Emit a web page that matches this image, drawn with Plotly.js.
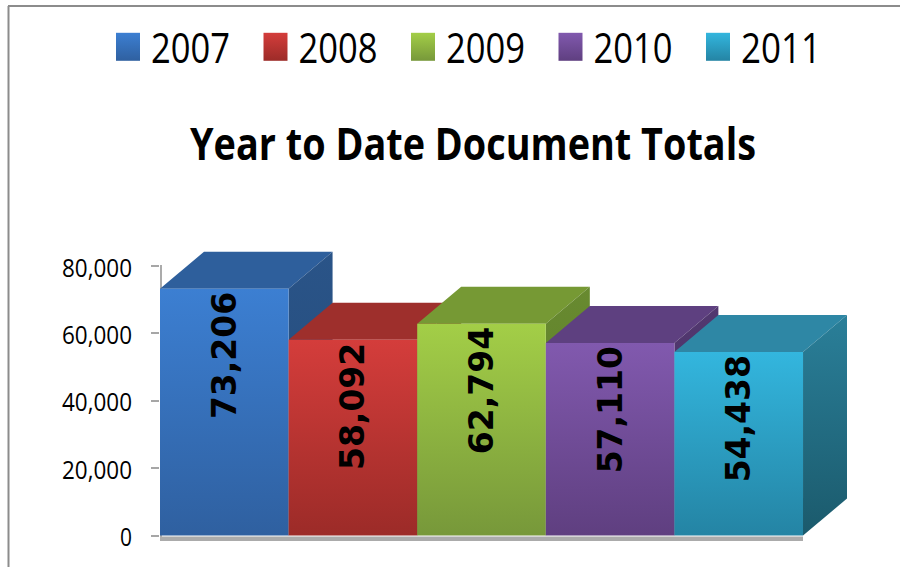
<!DOCTYPE html>
<html><head><meta charset="utf-8">
<script src="https://cdn.plot.ly/plotly-3.0.1.min.js"></script>
<style>html,body{margin:0;padding:0;background:#fff}#c{width:900px;height:567px}</style>
</head><body><div id="c"></div>
<script>
const years = ["2007","2008","2009","2010","2011"];
const totals = [73206,58092,62794,57110,54438];
const labels = ["73,206","58,092","62,794","57,110","54,438"];
const frontTop = ["#3c7fd2","#d43d3b","#a3ce47","#8159ae","#33b6de"];
const frontBottom = ["#2f60a0","#9c2b28","#77983a","#5f3f80","#2484a4"];
const topColors = ["#2e5f9c","#9e2f2c","#769934","#5e4080","#2e87a5"];
const sideColors = ["#2a5488","#8a2826","#688a30","#523870","#2a7f99"];
const sideBottom = ["#234a78","#7a2220","#5a7a28","#452f60","#1b5a6c"];
const depthX = 0.342, depthY = 10975, yMin = -2800, yMax = 84700;

const FONT = '"Open Sans",sans-serif';
const traces = [];
totals.forEach((v,i)=>{
  const l=i-0.5, r=i+0.5;
  traces.push({type:'scatter',mode:'lines',x:[l,r,r+depthX,l+depthX,l],y:[v,v,v+depthY,v+depthY,v],
    fill:'toself',fillcolor:topColors[i],line:{width:0,color:topColors[i]},showlegend:false,hoverinfo:'skip'});
  traces.push({type:'scatter',mode:'lines',x:[r,r+depthX,r+depthX,r,r],y:[v,v+depthY,depthY,0,v],
    fill:'toself',fillcolor:sideColors[i],
    fillgradient:{type:'vertical',colorscale:[[0,sideBottom[i]],[1,sideColors[i]]]},
    line:{width:0,color:sideColors[i]},showlegend:false,hoverinfo:'skip'});
});
totals.forEach((v,i)=>{
  traces.push({type:'bar',name:years[i],x:[i],y:[v],width:1,xaxis:'x2',yaxis:'y2',
    marker:{color:frontTop[i],line:{width:0}},
    text:[labels[i]],textposition:'inside',insidetextanchor:'end',textangle:-90,constraintext:'none',
    insidetextfont:{family:'"DejaVu Sans",sans-serif',size:33,color:'#000',weight:'bold'},
    hoverinfo:'y'});
});
const L=160,R=53,T=250,B=22,W=900,H=567;
const px=x=>(x-L)/(W-L-R), py=y=>1-(y-T)/(H-T-B);
const xr=[-0.5,4.5+depthX], yr=[yMin,yMax];
const layout={
  width:W,height:H,margin:{l:L,r:R,t:T,b:B,pad:0,autoexpand:false},
  paper_bgcolor:'#fff',plot_bgcolor:'rgba(0,0,0,0)',barmode:'overlay',
  title:{text:'<b>Year to Date Document Totals</b>',font:{family:FONT,size:44,color:'#000'},
    x:473/W,xanchor:'center',xref:'container',y:1-145/H,yanchor:'middle',yref:'container'},
  xaxis:{range:xr,showgrid:false,zeroline:false,showticklabels:false,ticks:'',showline:false,fixedrange:true},
  yaxis:{range:yr,showgrid:false,zeroline:false,tickvals:[0,20000,40000,60000,80000],
    ticktext:['0','20,000','40,000','60,000','80,000'],ticks:'outside',ticklen:8,tickwidth:2,tickcolor:'#a6a6a6',
    ticklabelstandoff:14,ticklabelshift:2,tickfont:{family:FONT,size:25,color:'#000'},showline:false,fixedrange:true},
  xaxis2:{range:xr,overlaying:'x',visible:false,fixedrange:true},
  yaxis2:{range:yr,overlaying:'y',visible:false,fixedrange:true},
  legend:{orientation:'h',xref:'paper',yref:'paper',x:px(105),xanchor:'left',y:py(13),yanchor:'top',itemwidth:36,
    font:{family:FONT,size:42,color:'#000'},entrywidth:96.5,entrywidthmode:'pixels',traceorder:'normal',bgcolor:'rgba(0,0,0,0)',itemclick:false,itemdoubleclick:false},
  shapes:[
    {type:'rect',xref:'paper',yref:'paper',x0:px(160),x1:px(803),y0:py(541),y1:py(536.5),fillcolor:'#ababab',line:{width:0},layer:'below'},
    {type:'rect',xref:'paper',yref:'paper',x0:px(160),x1:px(162),y0:py(541),y1:py(265),fillcolor:'#ababab',line:{width:0},layer:'below'},
    {type:'line',xref:'paper',yref:'paper',x0:px(8.5),x1:px(8.5),y0:py(567),y1:py(6),line:{color:'#8c8c8c',width:2}},
    {type:'line',xref:'paper',yref:'paper',x0:px(8),x1:px(900),y0:py(6),y1:py(6),line:{color:'#8c8c8c',width:2}}
  ],
  showlegend:true
};
Plotly.newPlot('c',traces,layout,{displayModeBar:false}).then(gd=>{
  const svg=gd.querySelector('.main-svg');
  const NS='http://www.w3.org/2000/svg';
  const defs=svg.querySelector('defs')||svg.insertBefore(document.createElementNS(NS,'defs'),svg.firstChild);
  years.forEach((y,i)=>{
    const g=document.createElementNS(NS,'linearGradient');
    g.setAttribute('id','front'+i);g.setAttribute('x1','0');g.setAttribute('y1','0');g.setAttribute('x2','0');g.setAttribute('y2','1');
    [[0,frontTop[i]],[1,frontBottom[i]]].forEach(([o,c])=>{
      const s=document.createElementNS(NS,'stop');s.setAttribute('offset',o);s.setAttribute('stop-color',c);g.appendChild(s);});
    defs.appendChild(g);
  });
  const fit=(t,len)=>{t.setAttribute('textLength',len);t.setAttribute('lengthAdjust','spacingAndGlyphs');};
  gd.querySelectorAll('.barlayer .point path').forEach((p,i)=>{p.style.fill='url(#front'+i+')';});
  gd.querySelectorAll('.legend .traces').forEach((t,i)=>{
    const q=t.querySelector('path');
    if(q){q.setAttribute('d','M-12,-14H12V14H-12Z');q.style.fill='url(#front'+i+')';}
    const tx=t.querySelector('text.legendtext');
    if(tx) fit(tx,i===4?80:79);
  });
  gd.querySelectorAll('.ytick text').forEach(t=>{fit(t,t.textContent==='0'?12:70);});
  const tt=gd.querySelector('.gtitle'); if(tt) fit(tt,566);
});
</script></body></html>
